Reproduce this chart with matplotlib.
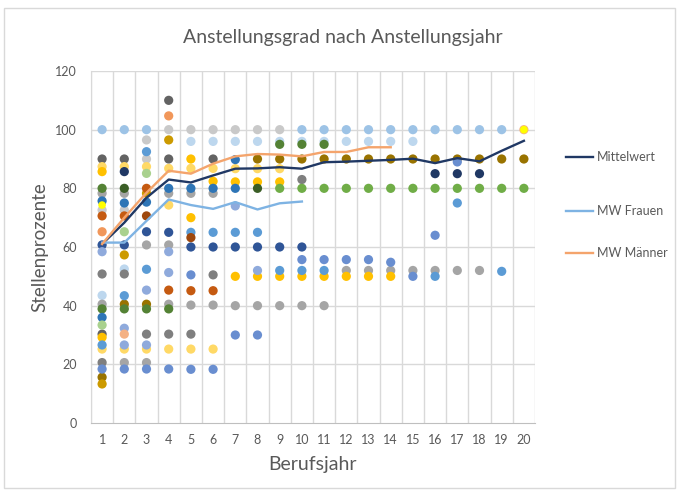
import matplotlib
matplotlib.use("Agg")
import matplotlib.pyplot as plt
from matplotlib.lines import Line2D
from matplotlib.patches import Rectangle

plt.rcParams['font.family'] = ['Lato', 'DejaVu Sans']

# ---------------- data ----------------
years = list(range(1, 21))

mw_all = [61, 68.3, 76.8, 83, 82, 84.4, 86.7, 86.8, 87.2, 86.7, 88.9, 89.1, 89.4,
          89.7, 90.1, 88.6, 90.3, 89.2, 92.8, 96.2]
mw_frauen_x = list(range(1, 11))
mw_frauen = [61.5, 61.5, 68.9, 76.2, 74.3, 73, 75.3, 72.8, 74.9, 75.5]
mw_maenner_x = list(range(1, 15))
mw_maenner = [61, 70, 78.5, 86, 85, 88.4, 90.9, 91.7, 91.5, 90.9, 92.4, 92.4, 94, 94]

# individual points, grouped by marker colour (x = Berufsjahr, y = Stellenprozente)
lightblue_x = [1, 2, 3, 10, 11, 12, 13, 14, 15, 16, 17, 18, 19]
lightblue_y = [100] * 13
paleblue_x = [5, 6, 7, 8, 9, 10, 11, 12, 13, 14, 15, 1, 2]
paleblue_y = [96] * 11 + [43.5, 52.5]
lightgray_x = [4, 5, 6, 7, 8, 9, 3, 3, 1, 2]
lightgray_y = [100, 100, 100, 100, 100, 100, 96.5, 90, 72.6, 72.6]
silver_x = [1, 2, 4, 5, 6, 3, 4, 1, 4, 5, 6, 7, 8, 9, 10, 11, 2, 3,
            12, 13, 14, 15, 16, 17, 18]
silver_y = [78.3, 78.3, 78.3, 78.3, 78.3, 60.7, 60.7, 40.5, 40.5, 40.2, 40.2, 40, 40, 40,
            40, 40, 20.6, 20.6, 52, 52, 52, 52, 52, 52, 52]
darkgray_x = [1, 2, 4, 6, 4, 1]
darkgray_y = [90, 90, 90, 90, 110, 30.3]
gray_x = [1, 2, 3, 4, 5, 6, 10, 1]
gray_y = [50.8, 50.8, 30.3, 30.3, 30.3, 50.5, 83, 20.6]
lightgold_x = [1, 2, 3, 4, 5, 6, 7, 8, 9, 4, 1, 2, 3, 4, 5, 6]
lightgold_y = [87.4, 87.4, 87.4, 86.8, 86.8, 86.8, 86.7, 86.7, 86.7, 74.3,
               25.2, 25.2, 25.2, 25.2, 25.2, 25.2]
gold_x = [1, 5, 5, 6, 7, 8, 9, 7, 8, 9, 10, 11, 12, 13, 14, 1]
gold_y = [85.7, 90, 70, 82.4, 82.2, 82.2, 82.2, 50, 50, 50, 50, 50, 50, 50, 50, 29.2]
darkgold_x = [8, 9, 10, 11, 12, 13, 14, 15, 16, 17, 18, 19, 20, 2, 3, 1]
darkgold_y = [90] * 13 + [40.5, 40.5, 15.6]
ochre_x = [4, 3, 2, 1]
ochre_y = [96.5, 78.3, 57.3, 13.3]
green_x = list(range(9, 21))
green_y = [80] * 12
darkgreen_x = [9, 10, 11, 1, 1, 2, 3, 4]
darkgreen_y = [95, 95, 95, 80, 38.9, 38.9, 38.9, 38.9]
deepgreen_x = [2, 8]
deepgreen_y = [80, 80]
blue_x = [1, 2, 3, 4, 5, 6, 7, 7, 1]
blue_y = [75.7, 75, 75.3, 80, 80, 80, 80, 89.8, 36]
skyblue_x = [3, 5, 6, 7, 8, 3, 2, 1, 9, 10, 11, 16, 17, 19]
skyblue_y = [92.5, 65, 65, 65, 65, 52.4, 43.4, 26.6, 52, 52, 52, 50, 75, 51.7]
navy_x = [2, 16, 17, 18]
navy_y = [85.7, 85, 85, 85]
darkblue_x = [1, 2, 3, 4, 5, 6, 7, 8, 9, 10]
darkblue_y = [60.7, 60.7, 65.2, 65, 60, 60, 60, 60, 60, 60]
periwinkle_x = [1, 2, 3, 4, 5, 6, 5, 7, 8, 10, 11, 12, 13, 14, 15, 16, 17]
periwinkle_y = [18.4, 18.4, 18.4, 18.4, 18.3, 18.3, 50.5, 30, 30, 55.7, 55.7, 55.7,
                55.7, 54.8, 50, 64, 89]
lavender_x = [1, 4, 3, 4, 2, 2, 3, 7, 8]
lavender_y = [58.4, 58.4, 45.3, 51.3, 32.3, 26.6, 26.6, 74, 52]
rust_x = [1, 2, 3, 4, 5, 6]
rust_y = [70.6, 70.6, 80, 45.3, 45.1, 45.1]
salmon_x = [1, 4]
salmon_y = [65.2, 104.7]
peach_x = [2, 20]
peach_y = [30.3, 100]
brown_x = [3, 5]
brown_y = [70.6, 63.2]
sage_x = [2, 1, 3]
sage_y = [65.2, 33.4, 85.1]
yellow_x = [1, 20]
yellow_y = [74.3, 100]

point_groups = [
    (lightblue_x, lightblue_y, '#9DC3E6'),
    (paleblue_x, paleblue_y, '#BDD7EE'),
    (lightgray_x, lightgray_y, '#C9C9C9'),
    (silver_x, silver_y, '#A5A5A5'),
    (darkgray_x, darkgray_y, '#636363'),
    (gray_x, gray_y, '#7F7F7F'),
    (lightgold_x, lightgold_y, '#FFD966'),
    (gold_x, gold_y, '#FFC000'),
    (darkgold_x, darkgold_y, '#997300'),
    (ochre_x, ochre_y, '#CC9A00'),
    (green_x, green_y, '#70AD47'),
    (darkgreen_x, darkgreen_y, '#548235'),
    (deepgreen_x, deepgreen_y, '#3B5E26'),
    (blue_x, blue_y, '#2E75B6'),
    (skyblue_x, skyblue_y, '#5B9BD5'),
    (navy_x, navy_y, '#203864'),
    (darkblue_x, darkblue_y, '#2F5597'),
    (periwinkle_x, periwinkle_y, '#698ED0'),
    (lavender_x, lavender_y, '#8FAADC'),
    (rust_x, rust_y, '#C55A11'),
    (salmon_x, salmon_y, '#F1975A'),
    (peach_x, peach_y, '#F4B183'),
    (brown_x, brown_y, '#9E480E'),
    (sage_x, sage_y, '#A9D18E'),
    (yellow_x, yellow_y, '#FFFF00'),
]

# ---------------- figure ----------------
W, H = 679, 493
fig = plt.figure(figsize=(W / 100, H / 100), dpi=100)
fig.patch.set_facecolor('white')
fig.add_artist(Rectangle((4 / W, 1 - 488 / H), 671 / W, 480 / H, transform=fig.transFigure,
                         fill=False, edgecolor='#D9D9D9', linewidth=1))

ax = fig.add_axes([91 / W, 1 - 423 / H, 444 / W, 352 / H])
ax.set_xlim(0.5, 20.5)
ax.set_ylim(0, 120)

for xs, ys, c in point_groups:
    size = 30 if c == '#FFFF00' else 44
    ax.scatter(xs, ys, s=size, color=c, edgecolors='none', zorder=3)

ax.plot(years, mw_all, color='#203864', lw=1.7, zorder=4)
ax.plot(mw_frauen_x, mw_frauen, color='#7EB3E3', lw=1.7, zorder=4)
ax.plot(mw_maenner_x, mw_maenner, color='#F4A46C', lw=1.7, zorder=4)

ax.set_xticks(years)
ax.set_xticklabels([str(y) for y in years])
ax.set_yticks(range(0, 121, 20))
ax.grid(False)
for v in range(0, 21):
    ax.axvline(v + 0.5, color='#D9D9D9', lw=1, zorder=1)
for v in range(20, 121, 20):
    ax.axhline(v, color='#D9D9D9', lw=1, zorder=1)
for s in ['top', 'right']:
    ax.spines[s].set_visible(False)
ax.spines['left'].set_color('#D9D9D9')
ax.spines['bottom'].set_color('#BFBFBF')
ax.tick_params(axis='both', which='both', length=0, colors='#595959', labelsize=9)
ax.tick_params(axis='x', pad=8)
ax.tick_params(axis='y', pad=10)

ax.set_xlabel('Berufsjahr', fontsize=14, color='#595959', labelpad=7)
ax.set_ylabel('Stellenprozente', fontsize=13.5, color='#595959', labelpad=5)
fig.text(343 / W, 1 - 38 / H, 'Anstellungsgrad nach Anstellungsjahr', ha='center', va='center',
         fontsize=14, color='#595959')

# legend (drawn manually to match spacing)
legend_items = [('Mittelwert', '#203864', 157), ('MW Frauen', '#7EB3E3', 211),
                ('MW Männer', '#F4A46C', 253)]
for label, c, yy in legend_items:
    fig.add_artist(Line2D([566 / W, 593 / W], [1 - yy / H, 1 - yy / H], color=c, lw=1.7,
                          transform=fig.transFigure))
    fig.text(597 / W, 1 - yy / H, label, ha='left', va='center', fontsize=9, color='#595959')

fig.savefig('out.png', dpi=100)
